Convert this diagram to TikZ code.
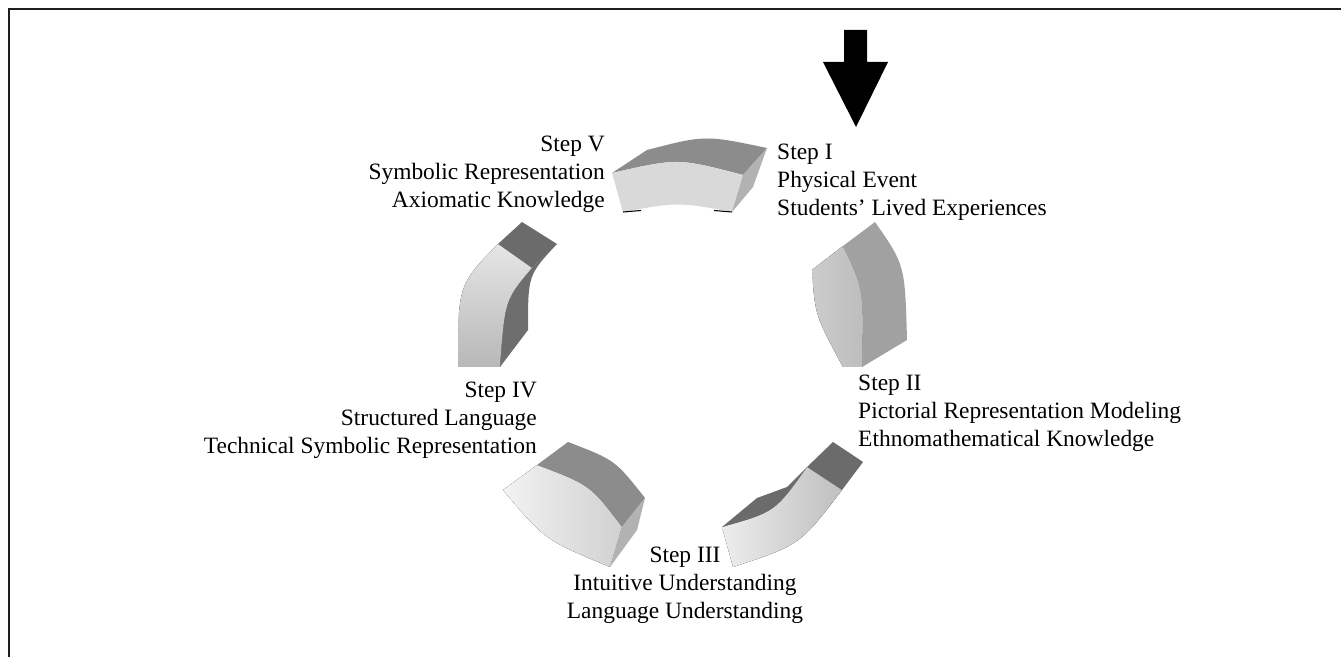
\documentclass[tikz,border=0pt]{standalone}
\usepackage{xcolor}
\usepackage{fontspec}
\setmainfont{Liberation Serif}
\usepackage{tikz}
\usetikzlibrary{positioning, calc}
\definecolor{capgray}{gray}{0.42}
\definecolor{topgray}{gray}{0.55}
\definecolor{sidegray}{gray}{0.70}

\tikzset{
	steptext/.style={inner sep=0pt, font=\fontsize{20}{23.9}\selectfont},
	capface/.style={fill=capgray},
	topface/.style={fill=topgray},
	sideface/.style={fill=sidegray}
}

\begin{document}
\begin{tikzpicture}[x=0.03cm, y=-0.03cm]
			\useasboundingbox (0,0) rectangle (1341,657);
			\draw[line width=2.1pt, black!88] (9,657) -- (9,9) -- (1341,9);
			\fill[black] (844,30) -- (867,30) -- (867,62) -- (888,62) -- (856,127) -- (823,62) -- (844,62) -- cycle;
			\fill[topface] (612,173) -- (647,150) .. controls (705,135) .. (767,148) -- (743,175) .. controls (678,158) .. (612,173) -- cycle;
			\fill[black!15] (612,173) .. controls (678,158) .. (743,175) -- (732,212) .. controls (678,202) .. (623,212) -- cycle;
			\fill[sideface] (767,148) -- (753,187) -- (732,212) -- (743,175) -- cycle;
			\draw[line width=0.9pt] (623,212) -- (641,210.5) (714,210.5) -- (732,212);
			\fill[left color=black!20, right color=black!26] (812,270) -- (843,246) .. controls (864,290) .. (862,367) -- (843,367) .. controls (815,315) .. (812,270) -- cycle;
			\fill[black!37] (843,246) -- (875,222) .. controls (905,265) .. (907,340) -- (862,367) .. controls (864,290) .. (843,246) -- cycle;
			\fill[capface] (807,467) -- (833,442) -- (863,462) -- (842,490) -- cycle;
			\fill[left color=black!7, right color=black!25] (807,467) -- (842,490) .. controls (800,545) .. (733,567) -- (722,527) .. controls (775,512) .. (807,467) -- cycle;
			\fill[capface] (722,527) -- (757,498) -- (787,487) -- (807,467) .. controls (775,512) .. (722,527) -- cycle;
			\fill[topface] (537,465) -- (568,442) .. controls (615,460) .. (645,498) -- (622,527) .. controls (590,485) .. (537,465) -- cycle;
			\fill[left color=black!5, right color=black!18] (503,490) -- (537,465) .. controls (590,485) .. (622,527) -- (610,567) .. controls (545,540) .. (503,490) -- cycle;
			\fill[sideface] (622,527) -- (645,498) -- (637,530) -- (610,567) -- cycle;
			\fill[capface] (498,244) -- (522,222) -- (557,244) -- (532,268) -- cycle;
			\fill[top color=black!10, bottom color=black!28] (498,244) -- (532,268) .. controls (505,300) .. (500,367) -- (458,367) .. controls (458,285) .. (498,244) -- cycle;
			\fill[black!57] (532,268) -- (557,244) .. controls (528,275) .. (528,330) -- (500,367) .. controls (505,300) .. (532,268) -- cycle;
			\node[steptext, anchor=west, align=left] (stepone) at (777,182) {Step I\\Physical Event\\Students’ Lived Experiences};
			\node[steptext, anchor=west, align=left] (steptwo) at (858,413) {Step II\\Pictorial Representation Modeling\\Ethnomathematical Knowledge};
			\node[steptext, align=center] (stepthree) at (685,585) {Step III\\Intuitive Understanding\\Language Understanding};
			\node[steptext, anchor=east, align=right] (stepfour) at (537,420) {Step IV\\Structured Language\\Technical Symbolic Representation};
			\node[steptext, anchor=east, align=right] (stepfive) at (605,174) {Step V\\Symbolic Representation\\Axiomatic Knowledge};
\end{tikzpicture}
\end{document}
